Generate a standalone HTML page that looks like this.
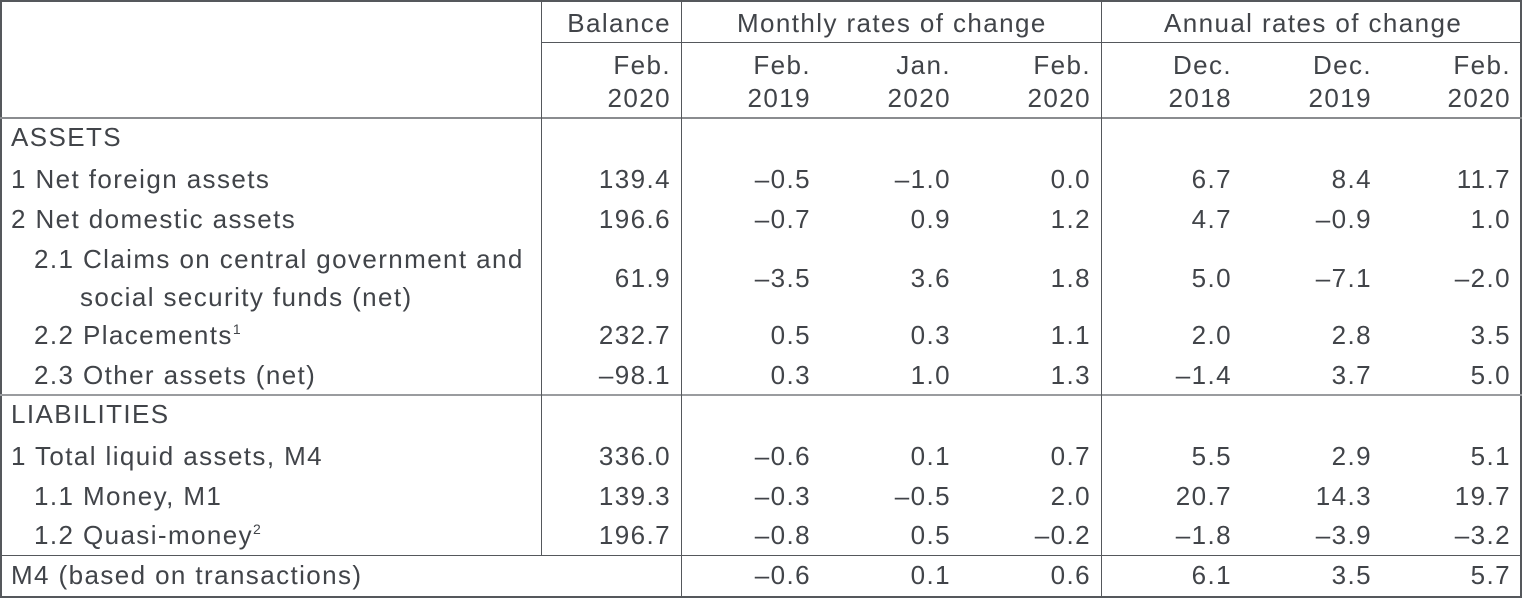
<!DOCTYPE html>
<html><head><meta charset="utf-8"><style>
body{margin:0;width:1522px;height:598px;background:#fff;position:relative;overflow:hidden;font-family:"Liberation Sans",Arial,sans-serif;color:#414449;}
.t{position:absolute;font-size:26px;line-height:26px;white-space:nowrap;letter-spacing:1.4px;}
.l{position:absolute;background:#55585c;}
sup{font-size:14px;vertical-align:10px;line-height:0;letter-spacing:0;}
</style></head><body>
<div class="l" style="left:0;top:0;width:1522px;height:2px"></div>
<div class="l" style="left:0;top:596px;width:1522px;height:2px"></div>
<div class="l" style="left:0;top:0;width:2px;height:598px"></div>
<div class="l" style="left:1520px;top:0;width:2px;height:598px"></div>
<div class="l" style="left:541px;top:42px;width:981px;height:1px"></div>
<div class="l" style="left:0;top:117px;width:1522px;height:2px;background:#8a8c8f"></div>
<div class="l" style="left:0;top:394px;width:1522px;height:2px;background:#9a9c9f"></div>
<div class="l" style="left:0;top:555px;width:1522px;height:1px"></div>
<div class="l" style="left:541px;top:0;width:1px;height:555px"></div>
<div class="l" style="left:681px;top:0;width:1px;height:598px"></div>
<div class="l" style="left:1101px;top:0;width:1px;height:598px"></div>
<div id="c"></div>
<script>
var rights=[670,810,950,1090,1231,1371,1510];
var h='';
function T(x,b,s,right){h+='<div class="t" style="'+(right?'right:'+(1522-x-1)+'px':'left:'+x+'px')+';top:'+(b-22)+'px">'+s+'</div>';}
T(670,32,'Balance',1);
T(737,32,'Monthly rates of change');
T(1164,32,'Annual rates of change');
var h1=['Feb.','Feb.','Jan.','Feb.','Dec.','Dec.','Feb.'],h2=['2020','2019','2020','2020','2018','2019','2020'];
for(var i=0;i<7;i++){T(rights[i],74,h1[i],1);T(rights[i],107,h2[i],1);}
T(11,146,'ASSETS');T(11,423,'LIABILITIES');
var rows=[
[11,188,'1 Net foreign assets',['139.4','–0.5','–1.0','0.0','6.7','8.4','11.7']],
[11,228,'2 Net domestic assets',['196.6','–0.7','0.9','1.2','4.7','–0.9','1.0']],
[34,268,'2.1 Claims on central government and',null],
[80,306,'social security funds (net)',['61.9','–3.5','3.6','1.8','5.0','–7.1','–2.0']],
[34,344,'2.2 Placements<sup>1</sup>',['232.7','0.5','0.3','1.1','2.0','2.8','3.5']],
[34,384,'2.3 Other assets (net)',['–98.1','0.3','1.0','1.3','–1.4','3.7','5.0']],
[11,465,'1 Total liquid assets, M4',['336.0','–0.6','0.1','0.7','5.5','2.9','5.1']],
[34,505,'1.1 Money, M1',['139.3','–0.3','–0.5','2.0','20.7','14.3','19.7']],
[34,544,'1.2 Quasi-money<sup>2</sup>',['196.7','–0.8','0.5','–0.2','–1.8','–3.9','–3.2']],
[11,584,'M4 (based on transactions)',['','–0.6','0.1','0.6','6.1','3.5','5.7']]];
rows.forEach(function(r){T(r[0],r[1],r[2]);var b=r[1];if(r[0]==80)b=287;if(r[3])r[3].forEach(function(v,i){if(v)T(rights[i],b,v,1);});});
document.getElementById('c').innerHTML=h;
</script>
</body></html>
